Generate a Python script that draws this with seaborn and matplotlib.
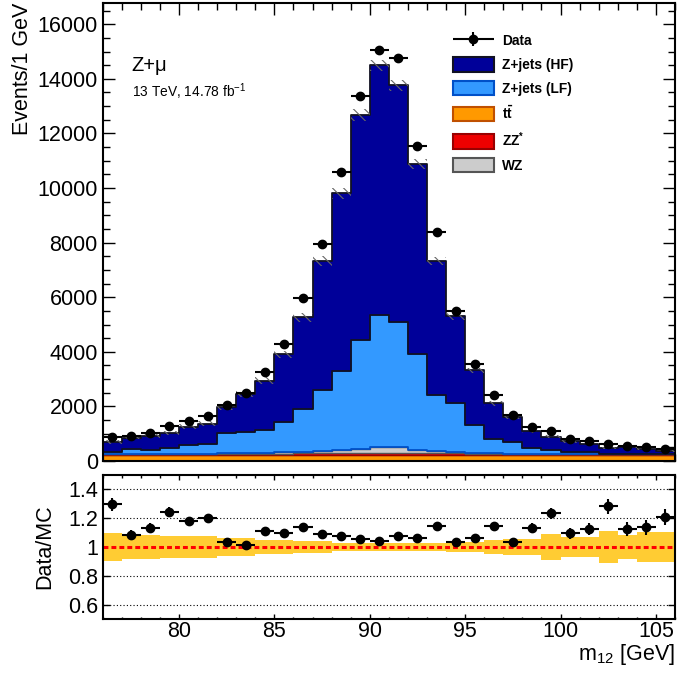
import numpy as np
import pandas as pd
import matplotlib
matplotlib.use("Agg")
import matplotlib.pyplot as plt
import seaborn as sns
from matplotlib.patches import Patch
from matplotlib.legend_handler import HandlerErrorbar
from matplotlib.container import ErrorbarContainer
from matplotlib.ticker import MultipleLocator, FixedLocator, FixedFormatter
from matplotlib.colors import to_hex

# ---------------- data ----------------
bin_edges = list(range(76, 107))          # m12 bins [GeV]
bin_centers = np.array(bin_edges[:-1]) + 0.5

data_counts = [890, 930, 1040, 1280, 1475, 1650, 2050, 2480, 3270, 4290,
               5980, 7960, 10580, 13380, 15055, 14775, 11550, 8380, 5495, 3540,
               2420, 1685, 1230, 1100, 790, 715, 615, 565, 515, 455]

zjets_hf = [346, 432, 518, 565, 664, 761, 962, 1400, 1807, 2464,
            3370, 4715, 6508, 8251, 9142, 8677, 6977, 4914, 3196, 2005,
            1322, 918, 622, 488, 380, 295, 222, 241, 197, 120]
zjets_lf = [78, 163, 133, 195, 316, 341, 738, 767, 834, 1128,
            1557, 2234, 2887, 3988, 4853, 4585, 3502, 2054, 1781, 1009,
            504, 433, 192, 140, 81, 81, 5, 5, 5, 8]
ttbar = [225, 225, 230, 225, 225, 220, 225, 225, 230, 225,
         230, 225, 230, 230, 230, 230, 225, 230, 225, 225,
         225, 220, 225, 220, 220, 220, 215, 220, 215, 215]
zz = [30, 30, 30, 33, 33, 35, 35, 37, 40, 45,
      50, 55, 63, 67, 70, 70, 65, 57, 50, 43,
      39, 35, 33, 31, 30, 30, 29, 28, 28, 27]
wz = [8, 10, 10, 12, 12, 15, 17, 22, 32, 42,
      57, 87, 117, 147, 195, 195, 127, 77, 57, 42,
      27, 19, 15, 12, 10, 10, 8, 8, 8, 6]

# relative MC uncertainty (ratio band) and hatched band in main panel
ratio_unc = [0.099, 0.083, 0.083, 0.076, 0.076, 0.076, 0.06, 0.06, 0.049, 0.049,
             0.042, 0.042, 0.03, 0.03, 0.03, 0.03, 0.03, 0.03, 0.037, 0.037,
             0.049, 0.055, 0.055, 0.088, 0.072, 0.072, 0.111, 0.083, 0.106, 0.106]
hatch_unc = [0.1, 0.08, 0.08, 0.07, 0.07, 0.07, 0.05, 0.05, 0.04, 0.035,
             0.03, 0.025, 0.02, 0.017, 0.015, 0.015, 0.017, 0.02, 0.025, 0.03,
             0.04, 0.045, 0.05, 0.07, 0.065, 0.065, 0.09, 0.075, 0.09, 0.09]

processes = ["Z+jets (HF)", "Z+jets (LF)", "WZ", "ZZ*", "ttbar"]  # first = top of stack
proc_values = {"Z+jets (HF)": zjets_hf, "Z+jets (LF)": zjets_lf,
               "WZ": wz, "ZZ*": zz, "ttbar": ttbar}
fill_colors = {"Z+jets (HF)": "#000099", "Z+jets (LF)": "#3399FF",
               "WZ": "#CCCCCC", "ZZ*": "#EE0000", "ttbar": "#FF9900"}
edge_colors = {"Z+jets (HF)": "#111122", "Z+jets (LF)": "#0050C8",
               "WZ": "#555555", "ZZ*": "#990000", "ttbar": "#C05000"}
edge_widths = {"Z+jets (HF)": 1.3, "Z+jets (LF)": 1.3, "WZ": 1.0, "ZZ*": 1.0, "ttbar": 1.0}

# ---------------- style ----------------
sns.set_style("ticks")
plt.rcParams["font.family"] = ["Liberation Sans", "DejaVu Sans"]
plt.rcParams["mathtext.default"] = "regular"
plt.rcParams["hatch.linewidth"] = 0.8
for key in ["text.color", "axes.labelcolor", "xtick.color", "ytick.color", "axes.edgecolor"]:
    plt.rcParams[key] = "black"

df = pd.DataFrame({
    "m12": np.concatenate([bin_centers for _ in processes]),
    "events": np.concatenate([np.asarray(proc_values[p], dtype=float) for p in processes]),
    "process": np.repeat(processes, len(bin_centers)),
})

fig = plt.figure(figsize=(6.78, 6.73), dpi=100)
ax = fig.add_axes([0.1515, 0.315, 0.844, 0.681])
ax2 = fig.add_axes([0.1515, 0.0802, 0.844, 0.214])

sns.histplot(data=df, x="m12", weights="events", hue="process", hue_order=processes,
             multiple="stack", bins=bin_edges, element="step", fill=True,
             palette=fill_colors, alpha=1, legend=False, ax=ax)

fc_to_proc = {to_hex(c): p for p, c in fill_colors.items()}
for coll in ax.collections:
    fcs = coll.get_facecolor()
    if len(fcs) == 0:
        continue
    p = fc_to_proc.get(to_hex(fcs[0]))
    if p is not None:
        coll.set_edgecolor(edge_colors[p])
        coll.set_linewidth(edge_widths[p])

data = np.array(data_counts, dtype=float)
mc_total = np.sum([np.array(proc_values[p], dtype=float) for p in processes], axis=0)

edges_arr = np.array(bin_edges, dtype=float)
tot_ext = np.append(mc_total, mc_total[-1])
h_ext = np.append(hatch_unc, hatch_unc[-1])
ax.fill_between(edges_arr, tot_ext * (1 - h_ext), tot_ext * (1 + h_ext), step="post",
                facecolor="none", edgecolor="#666666", hatch="\\\\\\", linewidth=0, zorder=3)

eb = ax.errorbar(bin_centers, data, xerr=0.5, yerr=np.sqrt(data), fmt="o", color="black",
                 ms=6, elinewidth=1.5, capsize=0, zorder=5, label="Data")

ax.set_xlim(76, 106)
ax.set_ylim(0, 16790)
ax.set_xlabel("")
ax.set_ylabel("Events/1 GeV", fontsize=15.5, loc="top")
ax.yaxis.set_label_coords(-0.121, 1.0)
ax.yaxis.set_major_locator(MultipleLocator(2000))
ax.yaxis.set_minor_locator(MultipleLocator(500))
ax.xaxis.set_major_locator(MultipleLocator(5))
ax.xaxis.set_minor_locator(MultipleLocator(1))
ax.tick_params(which="both", direction="in", top=True, right=True, labelbottom=False,
               width=1.0, color="black")
ax.tick_params(which="major", length=8.6)
ax.tick_params(which="minor", length=5)
ax.tick_params(axis="y", labelsize=15.5, pad=3.5, labelcolor="black")
for s in ax.spines.values():
    s.set_linewidth(1.5)
    s.set_color("black")

ax.text(0.0507, 0.864, "Z+μ", transform=ax.transAxes, fontsize=14.5, va="center", ha="left",
        color="black")
ax.text(0.0507, 0.806, "13 TeV, 14.78 fb$^{-1}$", transform=ax.transAxes, fontsize=9.9,
        va="center", ha="left", color="black")

handles = [eb] + [Patch(facecolor=fill_colors[p], edgecolor=edge_colors[p], linewidth=1.5)
                  for p in ["Z+jets (HF)", "Z+jets (LF)", "ttbar", "ZZ*", "WZ"]]
labels = ["Data", "Z+jets (HF)", "Z+jets (LF)", r"$t\bar{t}$", "ZZ$^{*}$", "WZ"]
leg = ax.legend(handles, labels, loc="upper left", bbox_to_anchor=(0.6116, 0.933), frameon=False,
                prop={"family": "Liberation Sans", "weight": "bold", "size": 9.9},
                handlelength=3.0, handleheight=1.25, handletextpad=0.6, labelspacing=0.64,
                borderpad=0, borderaxespad=0,
                handler_map={ErrorbarContainer: HandlerErrorbar(xerr_size=1.5, yerr_size=0.5)})
for t in leg.get_texts():
    t.set_color("black")

# ---------------- ratio panel ----------------
ratio = data / mc_total
ratio_err = np.sqrt(data) / mc_total
u_ext = np.append(ratio_unc, ratio_unc[-1])
ax2.fill_between(edges_arr, 1 - u_ext, 1 + u_ext, step="post", color="#FFCC33", lw=0, zorder=1)
ax2.axhline(1.0, color="#FF0000", ls=(0, (1.6, 1.0)), lw=2.2, zorder=2)
ax2.errorbar(bin_centers, ratio, xerr=0.5, yerr=ratio_err, fmt="o", color="black",
             ms=6, elinewidth=1.5, capsize=0, zorder=4)

ax2.set_xlim(76, 106)
ax2.set_ylim(0.5, 1.5)
rticks = [0.6, 0.8, 1.0, 1.2, 1.4]
ax2.yaxis.set_major_locator(FixedLocator(rticks))
ax2.yaxis.set_major_formatter(FixedFormatter([f"{t:g}" for t in rticks]))
ax2.xaxis.set_major_locator(MultipleLocator(5))
ax2.xaxis.set_minor_locator(MultipleLocator(1))
ax2.set_axisbelow(True)
ax2.yaxis.grid(True, ls=(0, (1, 2)), color="black", lw=0.8)
ax2.xaxis.grid(False)
ax2.tick_params(which="both", direction="in", top=True, right=True, width=1.0, color="black",
                labelcolor="black")
ax2.tick_params(axis="x", which="major", length=3.6, labelsize=15.5, pad=1.5)
ax2.tick_params(axis="x", which="minor", length=1.8)
ax2.tick_params(axis="y", which="major", length=5, labelsize=15.5, pad=3.5)
for s in ax2.spines.values():
    s.set_linewidth(1.5)
    s.set_color("black")
ax2.set_ylabel("Data/MC", fontsize=15.5, color="black")
ax2.yaxis.set_label_coords(-0.083, 0.5)
ax2.set_xlabel("m$_{12}$ [GeV]", fontsize=15.5, loc="right", color="black")
ax2.xaxis.set_label_coords(1.0, -0.16)

fig.savefig("out.png", dpi=100)
